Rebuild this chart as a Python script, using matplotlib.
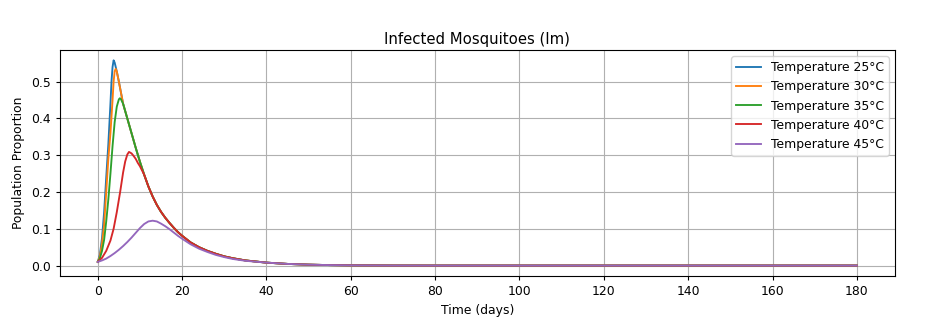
import matplotlib
matplotlib.use("Agg")
import matplotlib.pyplot as plt

# The reference was drawn a little smaller than the default font scale
plt.rcParams['font.size'] = 8.9
plt.rcParams['axes.titlesize'] = 10.7
plt.rcParams['lines.linewidth'] = 1.35
plt.rcParams['xtick.major.size'] = 3.1
plt.rcParams['ytick.major.size'] = 3.1

# Temperatures shown in the legend
temperatures = [25, 30, 35, 40, 45]

# Shared decay tail (all curves converge after ~day 11)
tail_days = [11, 12, 13, 14, 15, 16, 17, 18, 19, 20, 22, 24, 26, 28, 30, 32, 35,
             40, 45, 50, 55, 60, 70, 80, 100, 120, 140, 160, 180]
tail_im = [0.247, 0.215, 0.188, 0.165, 0.146, 0.130, 0.116, 0.103, 0.091, 0.081,
           0.063, 0.050, 0.040, 0.032, 0.025, 0.020, 0.014,
           0.008, 0.0045, 0.0025, 0.0013, 0.0006, 0.0001, 0, 0, 0, 0, 0, 0]

# Early part of each curve
days_25 = [0, 0.5, 1, 1.5, 2, 2.5, 3, 3.25, 3.5, 3.75, 4, 4.5, 5, 5.5, 6, 6.5, 7, 7.5, 8, 9, 10]
im_25 = [0.01, 0.03, 0.075, 0.145, 0.24, 0.33, 0.44, 0.50, 0.54, 0.558, 0.552, 0.528,
         0.50, 0.47, 0.44, 0.42, 0.40, 0.38, 0.36, 0.32, 0.282]

days_30 = [0, 0.5, 1, 1.5, 2, 2.5, 3, 3.5, 3.75, 4, 4.25, 4.5, 5, 5.5, 6, 6.5, 7, 7.5, 8, 9, 10]
im_30 = [0.01, 0.025, 0.06, 0.11, 0.20, 0.29, 0.36, 0.45, 0.50, 0.528, 0.535, 0.528,
         0.50, 0.47, 0.44, 0.42, 0.40, 0.38, 0.36, 0.32, 0.282]

days_35 = [0, 0.5, 1, 1.5, 2, 2.5, 3, 3.5, 4, 4.5, 5, 5.25, 5.5, 6, 6.5, 7, 7.5, 8, 9, 10]
im_35 = [0.01, 0.02, 0.04, 0.07, 0.12, 0.18, 0.25, 0.325, 0.39, 0.432, 0.452, 0.455,
         0.452, 0.44, 0.42, 0.40, 0.38, 0.36, 0.32, 0.282]

days_40 = [0, 1, 2, 3, 3.75, 4.5, 5.3, 6, 6.5, 7, 7.4, 8, 8.5, 9, 9.5, 10]
im_40 = [0.01, 0.021, 0.04, 0.068, 0.10, 0.145, 0.20, 0.253, 0.283, 0.302, 0.309,
         0.305, 0.298, 0.29, 0.279, 0.27]

days_45 = [0, 1, 2, 3, 4, 5, 6, 7, 8, 9, 10, 11, 12, 13, 14, 15, 16, 17, 18, 19, 20,
           22, 24, 26, 28, 30, 32, 35]
im_45 = [0.01, 0.014, 0.019, 0.026, 0.034, 0.043, 0.053, 0.064, 0.076, 0.089, 0.102,
         0.113, 0.12, 0.122, 0.12, 0.114, 0.107, 0.099, 0.09, 0.081, 0.073,
         0.058, 0.046, 0.037, 0.029, 0.023, 0.018, 0.013]

heads = [(days_25, im_25), (days_30, im_30), (days_35, im_35),
         (days_40, im_40), (days_45, im_45)]


def join_tail(days, vals):
    # append the shared tail after the last point of the curve's own values
    last = days[-1]
    d = list(days) + [t for t in tail_days if t > last]
    v = list(vals) + [y for t, y in zip(tail_days, tail_im) if t > last]
    return d, v


fig, ax = plt.subplots(figsize=(9.35, 3.23), dpi=100)
fig.subplots_adjust(left=0.064, right=0.957, top=0.845, bottom=0.146)

for temp, (d, v) in zip(temperatures, heads):
    x, y = join_tail(d, v)
    ax.plot(x, y, label=f'Temperature {temp}°C')

ax.set_title('Infected Mosquitoes (Im)', pad=4.5)
ax.set_xlabel('Time (days)')
ax.set_ylabel('Population Proportion')
ax.set_xticks(range(0, 181, 20))
ax.legend(loc='upper right')
ax.grid(True)

fig.savefig('out.png', dpi=100)
